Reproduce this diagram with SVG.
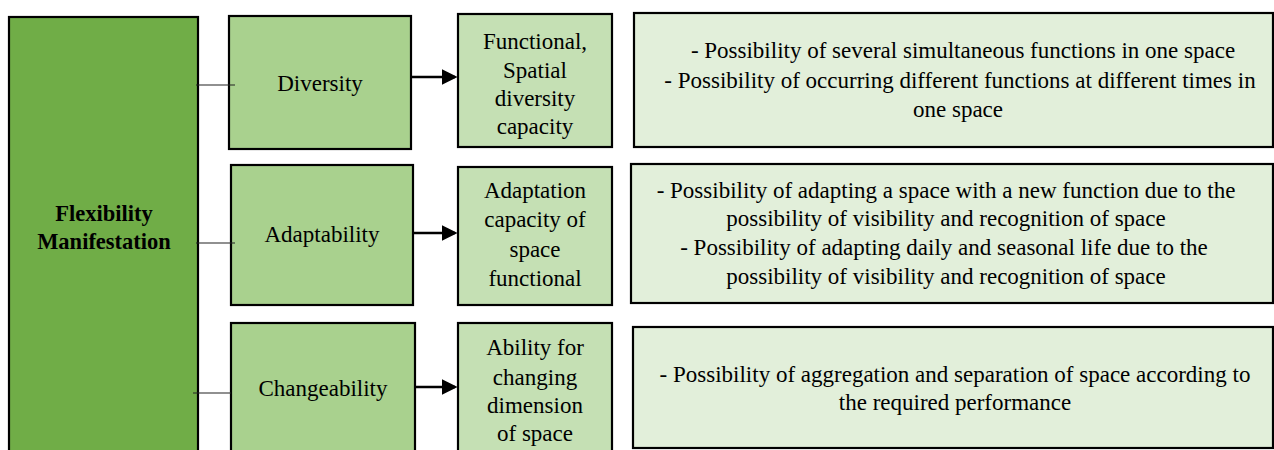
<svg xmlns="http://www.w3.org/2000/svg" width="1274" height="450" viewBox="0 0 1274 450">
<style>
.box{stroke:#000;stroke-width:2.2}
.l0{fill:#70AD47}
.l1{fill:#A9D18E}
.l2{fill:#C5E0B4}
.l3{fill:#E2EFDA}
text{font-family:"Liberation Serif","Times New Roman",serif;font-size:23px;fill:#000;text-anchor:middle}
.b{font-weight:bold;font-size:22.5px}
.link{stroke:#222;stroke-width:1.2;fill:none}
.arr{stroke:#000;stroke-width:2.6;fill:none;marker-end:url(#ah)}
</style>
<defs>
<marker id="ah" markerWidth="6" markerHeight="6" refX="5" refY="3" orient="auto" markerUnits="strokeWidth">
<path d="M0,0 L6,3 L0,6 z" fill="#000"/>
</marker>
</defs>
<g id="flexibility">
<rect class="box l0" x="9" y="17" width="189" height="450"/>
<text class="b" x="104" y="221">Flexibility</text>
<text class="b" x="104" y="249">Manifestation</text>
</g>
<g id="diversity">
<rect class="box l1" x="229" y="16" width="182" height="133"/>
<text x="320" y="91">Diversity</text>
</g>
<g id="functional">
<rect class="box l2" x="458" y="14" width="154" height="133"/>
<text x="535" y="49">Functional,</text>
<text x="535" y="78">Spatial</text>
<text x="535" y="106">diversity</text>
<text x="535" y="134">capacity</text>
</g>
<g id="desc1">
<rect class="box l3" x="634" y="13" width="639" height="134"/>
<text x="963" y="58">- Possibility of several simultaneous functions in one space</text>
<text x="960" y="88">- Possibility of occurring different functions at different times in</text>
<text x="958" y="117">one space</text>
</g>
<g id="adaptability">
<rect class="box l1" x="231" y="165" width="182" height="140"/>
<text x="322" y="242">Adaptability</text>
</g>
<g id="adaptation">
<rect class="box l2" x="458" y="167" width="154" height="138"/>
<text x="535" y="198">Adaptation</text>
<text x="535" y="227">capacity of</text>
<text x="535" y="257">space</text>
<text x="535" y="286">functional</text>
</g>
<g id="desc2">
<rect class="box l3" x="631" y="164" width="642" height="139"/>
<text x="946" y="198">- Possibility of adapting a space with a new function due to the</text>
<text x="946" y="226">possibility of visibility and recognition of space</text>
<text x="944" y="255">- Possibility of adapting daily and seasonal life due to the</text>
<text x="946" y="284">possibility of visibility and recognition of space</text>
</g>
<g id="changeability">
<rect class="box l1" x="231" y="323" width="184" height="140"/>
<text x="323" y="396">Changeability</text>
</g>
<g id="ability">
<rect class="box l2" x="458" y="323" width="154" height="140"/>
<text x="535" y="355">Ability for</text>
<text x="535" y="385">changing</text>
<text x="535" y="413">dimension</text>
<text x="535" y="441">of space</text>
</g>
<g id="desc3">
<rect class="box l3" x="633" y="327" width="640" height="121"/>
<text x="955" y="382">- Possibility of aggregation and separation of space according to</text>
<text x="955" y="410">the required performance</text>
</g>
<g id="connectors">
<line class="link" x1="196" y1="85" x2="235" y2="85"/>
<line class="link" x1="196" y1="243" x2="235" y2="243"/>
<line class="link" x1="193" y1="393" x2="231" y2="393"/>
<line class="arr" x1="412" y1="77" x2="455" y2="77"/>
<line class="arr" x1="414" y1="233" x2="455" y2="233"/>
<line class="arr" x1="416" y1="387" x2="455" y2="387"/>
</g>
</svg>
